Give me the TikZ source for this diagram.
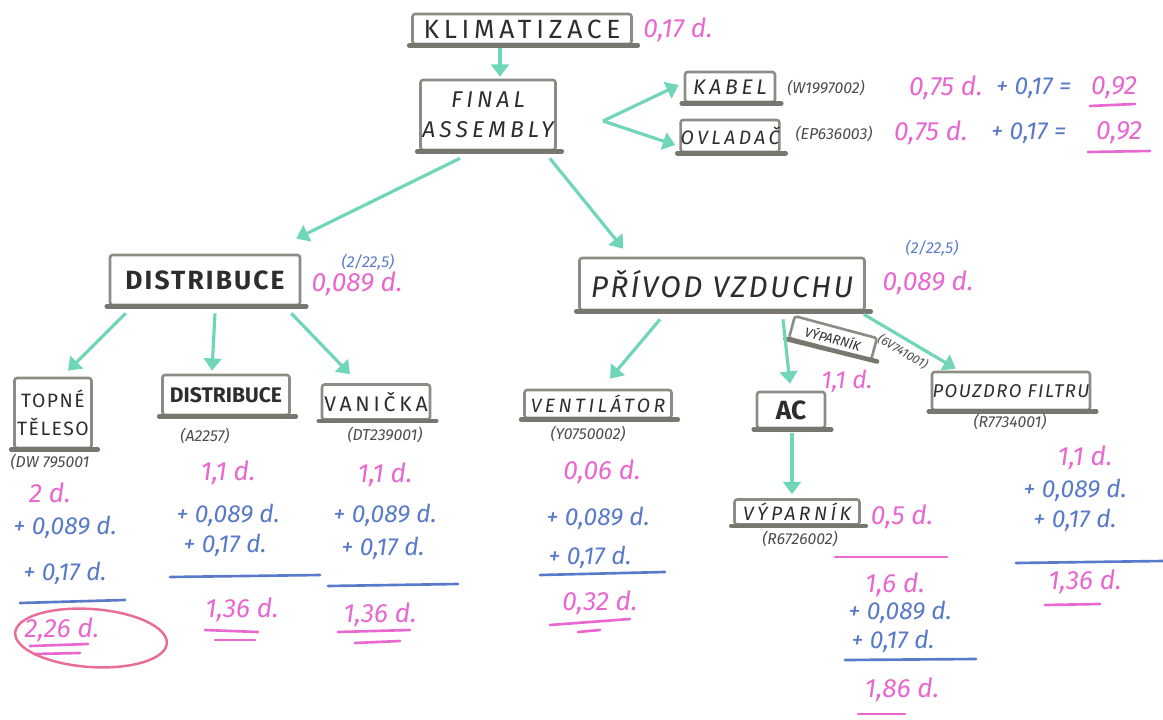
\documentclass[tikz,border=0pt]{standalone}
\usepackage{fontspec}
\setmainfont{Fira Sans}
\usetikzlibrary{arrows.meta,calc}
\definecolor{pen}{RGB}{45,45,45}
\definecolor{boxgray}{RGB}{140,140,132}
\definecolor{tealpen}{RGB}{112,214,184}
\definecolor{mag}{RGB}{232,104,208}
\definecolor{bluepen}{RGB}{88,122,200}
\definecolor{ringred}{RGB}{232,110,150}
\newcommand\spread{\addfontfeature{LetterSpace=18}}
\newcommand\spreadless{\addfontfeature{LetterSpace=8}}
\newcommand\fs[1]{\fontsize{#1}{#1}\selectfont}
\begin{document}
\begin{tikzpicture}[x=0.02cm,y=-0.02cm,
  box/.style={draw=boxgray, line width=1.5pt, rounded corners=1.5pt, text=pen,
    inner sep=0pt, align=center},
  baseline/.style={draw=boxgray!85!black, line width=2.6pt, line cap=round},
  arr/.style={draw=tealpen, line width=1.8pt,
    -{Triangle[width=10pt,length=7pt]}},
  code/.style={font=\fs{9}\itshape, text=pen!85},
  cost/.style={font=\fs{15}\itshape, text=mag},
  add/.style={font=\fs{14}\itshape, text=bluepen},
  sumline/.style={draw=bluepen, line width=1.5pt, line cap=round},
  underl/.style={draw=mag, line width=1.5pt, line cap=round}]
\useasboundingbox (0,0) rectangle (1163,720);
\fill[white] (0,0) rectangle (1163,720);

% ---- boxes ----
\node[box, minimum width=4.38cm, minimum height=0.6cm, font=\fs{15}\spread] (klim) at (522,29) {KLIMATIZACE};
\node[box, minimum width=2.7cm, minimum height=1.4cm, font=\fs{13}\itshape\spread] (final) at (488,115) {FINAL\\[4pt]ASSEMBLY};
\node[box, minimum width=1.8cm, minimum height=0.6cm, font=\fs{12}\itshape\spread] (kabel) at (730,87) {KABEL};
\node[box, minimum width=1.9cm, minimum height=0.64cm, font=\fs{11}\itshape\spread] (ovladac) at (730,136) {OVLADAČ};
\node[box, minimum width=3.8cm, minimum height=1.0cm, font=\fs{15}\bfseries\spreadless] (distr) at (205,280) {DISTRIBUCE};
\node[box, minimum width=5.7cm, minimum height=1.04cm, font=\fs{17}\itshape\spreadless] (privod) at (722,284) {PŘÍVOD VZDUCHU};
\node[box, minimum width=1.54cm, minimum height=1.4cm, font=\fs{11}\spreadless] (topne) at (53,413) {TOPNÉ\\[5pt]TĚLESO};
\node[box, minimum width=2.54cm, minimum height=0.8cm, font=\fs{12}\bfseries] (distr2) at (226,395) {DISTRIBUCE};
\node[box, minimum width=2.16cm, minimum height=0.7cm, font=\fs{12}\spread] (vanicka) at (376,402) {VANIČKA};
\node[box, minimum width=2.94cm, minimum height=0.56cm, font=\fs{11}\itshape\spread] (vent) at (598,404) {VENTILÁTOR};
\node[box, minimum width=1.7cm, minimum height=0.45cm, font=\fs{7.5}\itshape, rotate=-15] (vyp1) at (833,338) {VÝPARNÍK};
\node[box, minimum width=1.36cm, minimum height=0.72cm, font=\fs{15}\bfseries] (ac) at (791,410) {AC};
\node[box, minimum width=2.5cm, minimum height=0.5cm, font=\fs{11}\itshape\spread] (vyp2) at (797,512) {VÝPARNÍK};
\node[box, minimum width=3.16cm, minimum height=0.76cm, font=\fs{10.5}\itshape\spreadless] (pouzdro) at (1011,391) {POUZDRO FILTRU};

% heavier bottom strokes of the boxes
\foreach \n in {klim,final,kabel,ovladac,distr,privod,topne,distr2,vanicka,vent,vyp1,ac,vyp2,pouzdro}
  \draw[baseline] ($(\n.south west)+(-2,0)$) -- ($(\n.south east)+(5,0)$);

% ---- part codes ----
\node[code] (kabelcode) at (826,88) {(W1997002)};
\node[code] (ovlcode) at (834,134) {(EP636003)};
\node[code] (topnecode) at (50,462) {(DW 795001};
\node[code] (distr2code) at (205,436) {(A2257)};
\node[code] (vancode) at (385,435) {(DT239001)};
\node[code] (ventcode) at (588,434) {(Y0750002)};
\node[code, font=\fs{7}\itshape, rotate=-30] (vyp1code) at (903,352) {(6V741001)};
\node[code] (vyp2code) at (800,539) {(R6726002)};
\node[code] (pouzcode) at (1010,422) {(R7734001)};
\node[code, text=bluepen] (distrshare) at (368,262) {(2/22,5)};
\node[code, text=bluepen] (privshare) at (932,248) {(2/22,5)};

% ---- costs next to the boxes ----
\node[cost] (klimcost) at (678,30) {0,17 d.};
\node[cost] (distrcost) at (357,284) {0,089 d.};
\node[cost] (privcost) at (928,283) {0,089 d.};
\node[cost, font=\fs{14}\itshape] (vyp1cost) at (847,381) {1,1 d.};
\node[cost] (vyp2cost) at (902,517) {0,5 d.};

\node[cost, anchor=west] (kabcost) at (903,88) {0,75 d.};
\node[add, anchor=west] (kabadd) at (990,88) {+ 0,17 =};
\node[cost, anchor=west] (kabtot) at (1085,88) {0,92};
\draw[underl] (1090,106) -- (1135,104);
\node[cost, anchor=west] (ovlcost) at (888,133) {0,75 d.};
\node[add, anchor=west] (ovladd) at (985,133) {+ 0,17 =};
\node[cost, anchor=west] (ovltot) at (1090,133) {0,92};
\draw[underl] (1088,152) -- (1150,151);

% ---- sums under the parts ----
\node[cost] (t1) at (50,493) {2 d.};
\node[add] (t2) at (65,527) {+ 0,089 d.};
\node[add] (t3) at (65,573) {+ 0,17 d.};
\draw[sumline] (20,603) -- (125,600);
\node[cost] (t4) at (62,630) {2,26 d.};
\draw[underl] (30,646) -- (88,644);
\draw[underl] (34,654) -- (80,653);
\draw[draw=ringred, line width=1.4pt, rotate around={-4:(91,638)}] (91,638) ellipse [x radius=76, y radius=29];

\node[cost] (d1) at (228,473) {1,1 d.};
\node[add] (d2) at (228,515) {+ 0,089 d.};
\node[add] (d3) at (225,545) {+ 0,17 d.};
\draw[sumline] (170,577) -- (320,575);
\node[cost] (d4) at (242,610) {1,36 d.};
\draw[underl] (205,630) -- (258,632);
\draw[underl] (215,640) -- (255,640);

\node[cost] (v1) at (385,475) {1,1 d.};
\node[add] (v2) at (385,515) {+ 0,089 d.};
\node[add] (v3) at (383,548) {+ 0,17 d.};
\draw[sumline] (328,586) -- (458,584);
\node[cost] (v4) at (380,615) {1,36 d.};
\draw[underl] (338,632) -- (410,630);
\draw[underl] (355,643) -- (400,641);

\node[cost] (e1) at (602,472) {0,06 d.};
\node[add] (e2) at (598,518) {+ 0,089 d.};
\node[add] (e3) at (590,557) {+ 0,17 d.};
\draw[sumline] (540,575) -- (665,572);
\node[cost] (e4) at (600,603) {0,32 d.};
\draw[underl] (550,625) -- (630,619);
\draw[underl] (578,632) -- (600,630);

\draw[underl] (835,557) -- (947,557);
\node[cost] (a1) at (895,585) {1,6 d.};
\node[add] (a2) at (900,612) {+ 0,089 d.};
\node[add] (a3) at (893,641) {+ 0,17 d.};
\draw[sumline] (845,660) -- (976,659);
\node[cost] (a4) at (902,690) {1,86 d.};
\draw[underl] (858,714) -- (905,714);

\node[cost] (p1) at (1085,458) {1,1 d.};
\node[add] (p2) at (1075,490) {+ 0,089 d.};
\node[add] (p3) at (1075,520) {+ 0,17 d.};
\draw[sumline] (1016,563) -- (1163,561);
\node[cost] (p4) at (1085,582) {1,36 d.};
\draw[underl] (1045,605) -- (1100,604);

% ---- connectors ----
\coordinate (fork) at (603,121);
\draw[arr] ($(klim.south)+(-22,3)$) -- ($(final.north)+(12,-2)$);
\draw[arr] (fork) -- ($(kabel.west)+(-5,-2)$);
\draw[arr] (fork) -- ($(ovladac.west)+(-4,9)$);
\draw[arr] ($(final.south)+(-28,7)$) -- ($(distr.north east)+(-5,-15)$);
\draw[arr] ($(final.south east)+(-7,7)$) -- ($(privod.north west)+(45,-8)$);
\draw[arr] ($(distr.south west)+(17,7)$) -- ($(topne.north)+(15,-6)$);
\draw[arr] ($(distr.south)+(10,7)$) -- ($(distr2.north)+(-14,-3)$);
\draw[arr] ($(distr.south east)+(-10,7)$) -- ($(vanicka.north)+(-26,-9)$);
\draw[arr] ($(privod.south)+(-62,8)$) -- ($(vent.north)+(12,-10)$);
\draw[arr] ($(privod.south)+(61,8)$) -- ($(ac.north)+(-1,-7)$);
\draw[arr] ($(privod.south east)+(-2,3)$) -- ($(pouzdro.north west)+(25,-2)$);
\draw[arr] ($(ac.south)+(1,4)$) -- ($(vyp2.north)+(-5,-4)$);
\end{tikzpicture}
\end{document}
